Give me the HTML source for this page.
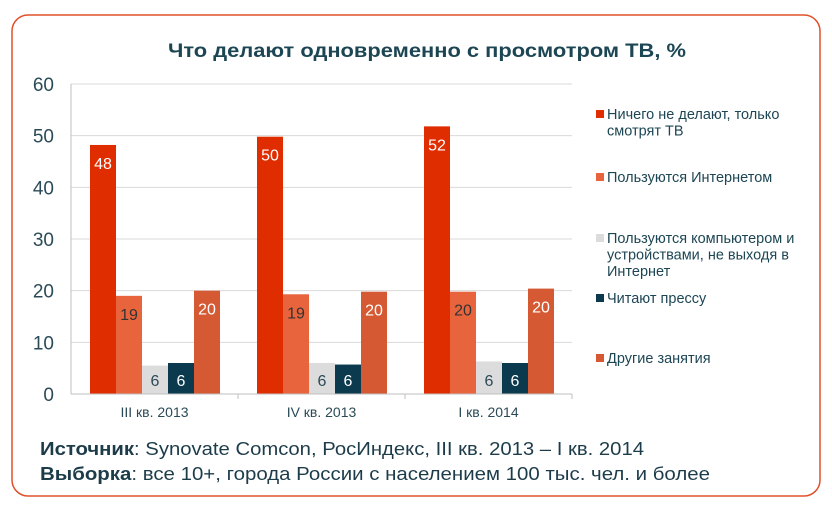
<!DOCTYPE html>
<html><head><meta charset="utf-8"><style>
html,body{margin:0;padding:0;background:#fff;}
svg{display:block;font-family:"Liberation Sans",sans-serif;}
</style></head><body>
<svg id="chart" width="832" height="510" viewBox="0 0 832 510">
<rect x="12" y="15" width="808" height="481" rx="16" fill="#fff" stroke="#e0502a" stroke-width="1.5"/>
<text x="427" y="57" text-anchor="middle" font-size="19" font-weight="bold" fill="#1d4654" textLength="518" lengthAdjust="spacingAndGlyphs">Что делают одновременно с просмотром ТВ, %</text>
<g id="grid"></g><g id="bars"></g><g id="axes"></g>
<g id="legend" font-size="14.5" fill="#1d4654"></g>
<text x="40" y="455" font-size="18" fill="#1d3c4a" textLength="604" lengthAdjust="spacingAndGlyphs"><tspan font-weight="bold">Источник</tspan>: Synovate Comcon, РосИндекс, III кв. 2013 – I кв. 2014</text>
<text x="40" y="480" font-size="18" fill="#1d3c4a" textLength="670" lengthAdjust="spacingAndGlyphs"><tspan font-weight="bold">Выборка</tspan>: все 10+, города России с населением 100 тыс. чел. и более</text>
</svg>
<script>
const categories = ["III кв. 2013", "IV кв. 2013", "I кв. 2014"];
const seriesNames = ["Ничего не делают, только смотрят ТВ", "Пользуются Интернетом", "Пользуются компьютером и устройствами, не выходя в Интернет", "Читают прессу", "Другие занятия"];
const s0 = [48.2, 49.8, 51.8];
const s1 = [19, 19.3, 19.8];
const s2 = [5.5, 6, 6.3];
const s3 = [6, 5.7, 6];
const s4 = [20, 19.8, 20.4];
const labels0 = ["48", "50", "52"];
const labels1 = ["19", "19", "20"];
const labels2 = ["6", "6", "6"];
const labels3 = ["6", "6", "6"];
const labels4 = ["20", "20", "20"];
const yTicks = [0, 10, 20, 30, 40, 50, 60];

const series = [s0, s1, s2, s3, s4];
const labels = [labels0, labels1, labels2, labels3, labels4];
const colors = ["#e02d00", "#e8643c", "#dcdcdc", "#0b3a4f", "#d55a34"];
const labelColors = ["#fff", "#333", "#2b4a57", "#fff", "#fff"];
const NS = "http://www.w3.org/2000/svg";
const x0 = 71, catW = 167, y0 = 394, y60 = 84;
const yS = v => y0 - (v / 60) * (y0 - y60);
const bw = 26, padL = 19;
function mk(tag, attrs, parent) { const e = document.createElementNS(NS, tag); for (const k in attrs) e.setAttribute(k, attrs[k]); parent.appendChild(e); return e; }
const grid = document.getElementById("grid"), bars = document.getElementById("bars"), axes = document.getElementById("axes"), legend = document.getElementById("legend");
yTicks.forEach(t => {
  if (t > 0) {
    const l = mk("line", {x1: x0, x2: x0 + catW * 3, y1: yS(t), y2: yS(t), stroke: "#d9d9d9", "stroke-width": 1}, grid);
    
    
  }
  const tx = mk("text", {x: 54, y: yS(t) + 7, "text-anchor": "end", "font-size": 19, fill: "#2b4a57"}, axes);
  tx.textContent = t;
  
  
});
const ax = mk("line", {x1: x0, x2: x0, y1: y60, y2: y0, stroke: "#bfbfbf"}, axes);


const bx = mk("line", {x1: x0, x2: x0 + catW * 3, y1: y0, y2: y0, stroke: "#bfbfbf"}, axes);


categories.forEach((c, i) => {
  const tk = mk("line", {x1: x0 + catW * (i + 1), x2: x0 + catW * (i + 1), y1: y0, y2: y0 + 5, stroke: "#bfbfbf"}, axes);
  
  
  const tx = mk("text", {x: x0 + catW * i + catW / 2, y: 417, "text-anchor": "middle", "font-size": 14, fill: "#2b4a57"}, axes);
  tx.textContent = c;
  
  
  series.forEach((s, j) => {
    const x = x0 + catW * i + padL + j * bw;
    const r = mk("rect", {x: x, y: yS(s[i]), width: bw, height: y0 - yS(s[i]), fill: colors[j]}, bars);
    
    
    const lbl = mk("text", {x: x + bw / 2, y: (j === 2 || j === 3) ? y0 - 8 : yS(s[i]) + 24, "text-anchor": "middle", "font-size": 16, fill: labelColors[j]}, bars);
    lbl.textContent = labels[j][i];
    
    
  });
});
const legLines = [["Ничего не делают, только", "смотрят ТВ"], ["Пользуются Интернетом"], ["Пользуются компьютером и", "устройствами, не выходя в", "Интернет"], ["Читают прессу"], ["Другие занятия"]];
const legY = [119, 182, 243, 303, 363];
legLines.forEach((ls, j) => {
  const g = mk("g", {}, legend);
  
  
  mk("rect", {x: 596, y: legY[j] - 9, width: 8, height: 8, fill: colors[j]}, g);
  ls.forEach((t, k) => {
    const tx = mk("text", {x: 607, y: legY[j] + k * 16.5}, g);
    tx.textContent = t;
  });
});
</script>
</body></html>
